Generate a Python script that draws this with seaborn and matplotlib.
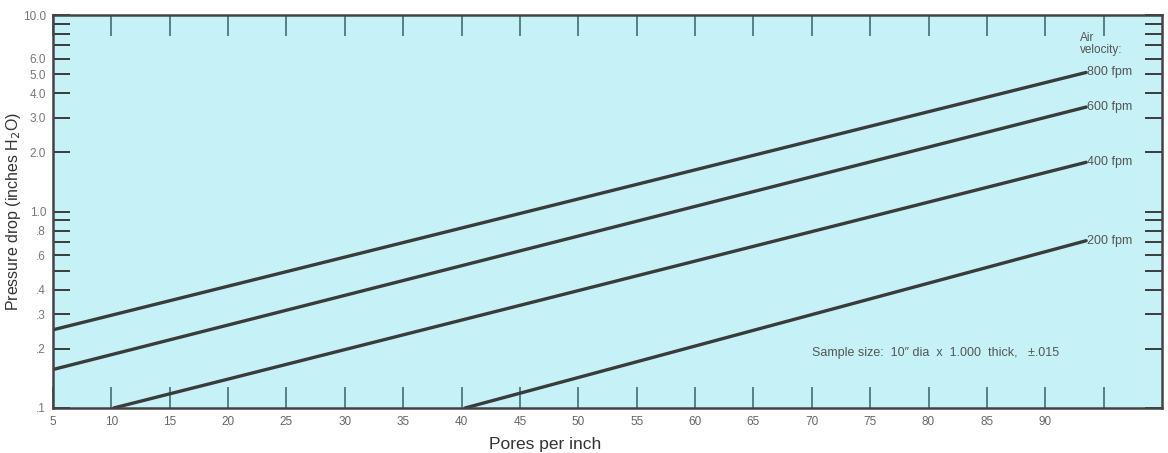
import numpy as np
import pandas as pd
import matplotlib
matplotlib.use("Agg")
import matplotlib.pyplot as plt
import matplotlib.ticker as mticker
import seaborn as sns

# air velocity curves: pressure drop vs pores per inch (straight on log y)
velocities = ["800 fpm", "600 fpm", "400 fpm", "200 fpm"]
pores_start = [5, 5, 10.2, 40.3]
pores_end = [93.5, 93.5, 93.5, 93.5]
drop_start = [0.25, 0.157, 0.1, 0.1]
drop_end = [5.1, 3.4, 1.78, 0.71]

x_ticks = list(range(5, 100, 5))
x_labels = [str(v) if v <= 90 else "" for v in x_ticks]
y_major = [0.1, 0.2, 0.3, 0.4, 0.6, 0.8, 1.0, 2.0, 3.0, 4.0, 5.0, 6.0, 10.0]
y_labels = [".1", ".2", ".3", ".4", ".6", ".8", "1.0", "2.0", "3.0", "4.0", "5.0", "6.0", "10.0"]

rows = []
for v, x0, x1, y0, y1 in zip(velocities, pores_start, pores_end, drop_start, drop_end):
    rows.append({"velocity": v, "pores": x0, "drop": y0})
    rows.append({"velocity": v, "pores": x1, "drop": y1})
df = pd.DataFrame(rows)

sns.set_style("white")
plt.rcParams["font.family"] = ["Liberation Sans", "DejaVu Sans"]

fig = plt.figure(figsize=(11.68, 4.53), dpi=100)
ax = fig.add_axes([53 / 1168, 1 - 408 / 453, 1109 / 1168, 393 / 453])
ax.set_facecolor("#c6f2f7")

sns.lineplot(data=df, x="pores", y="drop", units="velocity", estimator=None,
             color="#3b3b3b", linewidth=2.4, ax=ax, legend=False)

ax.set_yscale("log")
ax.set_xlim(5, 100)
ax.set_ylim(0.1, 10)

# line labels
for v, x1, y1 in zip(velocities, pores_end, drop_end):
    ax.text(x1 + 0.1, y1, v, fontsize=9, color="#555555", va="center", ha="left")
ax.text(93.0, 6.2, "Air\nvelocity:", fontsize=8.5, color="#555555",
        va="bottom", ha="left", linespacing=0.95)
ax.text(70.0, 0.19, "Sample size:  10\u2033 dia  x  1.000  thick,   \u00b1.015",
        fontsize=9, color="#555555", va="center", ha="left")

# ticks
ax.set_xticks(x_ticks)
ax.set_xticklabels(x_labels)
ax.yaxis.set_major_locator(mticker.FixedLocator(y_major))
ax.yaxis.set_major_formatter(mticker.FixedFormatter(y_labels))
ax.yaxis.set_minor_locator(mticker.LogLocator(base=10, subs=np.arange(1, 10)))
ax.yaxis.set_minor_formatter(mticker.NullFormatter())

ax.tick_params(axis="x", which="major", direction="in", length=15, width=1.2,
               color="#3f6f78", top=True, bottom=True, labelsize=8.5,
               labelcolor="#666666", pad=6)
ax.tick_params(axis="y", which="both", direction="in", length=12, width=1.4,
               color="#3b3b3b", left=True, right=True, labelsize=8.5,
               labelcolor="#777777", pad=5)

for s in ax.spines.values():
    s.set_color("#444444")
    s.set_linewidth(1.8)

ax.set_xlabel("Pores per inch", fontsize=12.5, color="#333333")
ax.xaxis.set_label_coords(0.444, -0.075)
ax.set_ylabel("Pressure drop (inches H$_2$O)", fontsize=11.5, color="#333333")
ax.yaxis.set_label_coords(-0.027, 0.5)

fig.savefig("out.png", dpi=100, facecolor="white")
